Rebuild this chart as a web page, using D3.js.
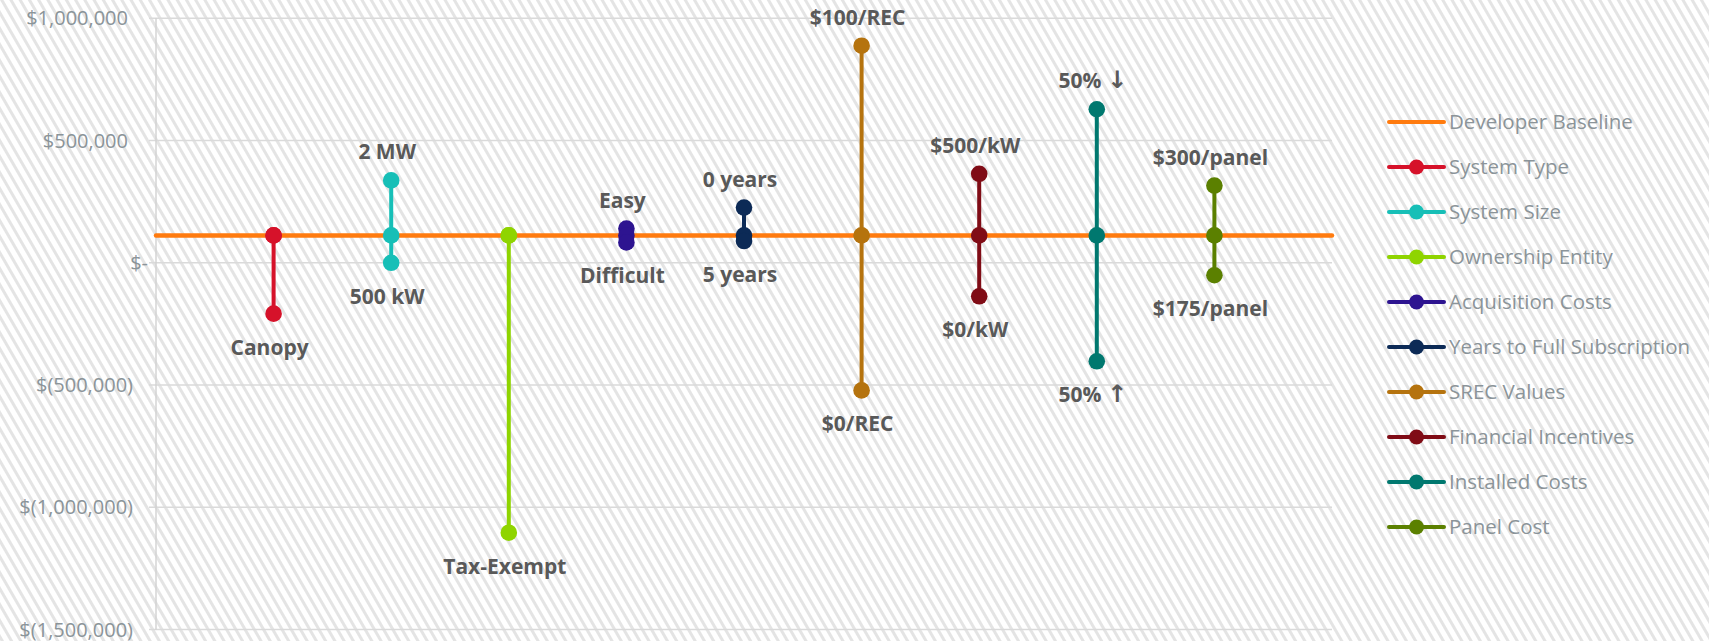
<!DOCTYPE html>
<html lang="en">
<script src="https://d3js.org/d3.v7.min.js"></script>
<style>
  body { margin: 0; background: #fff; }
  svg { display: block; }
  .tick-label { font-family: "Open Sans", sans-serif; font-size: 20px; fill: #8b9499; }
  .legend-label { font-family: "Open Sans", sans-serif; font-size: 20.5px; fill: #8b9499; }
  .point-label { font-family: "Open Sans", sans-serif; font-size: 21px; font-weight: 700; fill: #595959; }
  .arrow { font-family: "DejaVu Sans", sans-serif; font-size: 24px; font-weight: 700; }
</style>
<body>
<svg id="chart" width="1709" height="641"></svg>
<script>
  // values
  var seriesNames = ["System Type", "System Size", "Ownership Entity", "Acquisition Costs",
    "Years to Full Subscription", "SREC Values", "Financial Incentives", "Installed Costs", "Panel Cost"];
  var seriesColors = ["#d6122a", "#17bfb7", "#8fd400", "#2d1490", "#0c2a56",
    "#b5730e", "#800c16", "#00786f", "#5b8000"];
  var seriesPos = [1, 2, 3, 4, 5, 6, 7, 8, 9];
  var baselineName = "Developer Baseline";
  var baselineColor = "#ff7b0f";
  var baselineValue = 112000;
  var highValues = [112000, 337000, 112000, 140000, 226000, 888000, 364000, 628000, 316000];
  var lowValues = [-208000, 0, -1104000, 83000, 89000, -522000, -137000, -403000, -51000];
  var highLabels = ["", "2 MW", "", "Easy", "0 years", "$100/REC", "$500/kW", "50% \u2193", "$300/panel"];
  var lowLabels = ["Canopy", "500 kW", "Tax-Exempt", "Difficult", "5 years", "$0/REC", "$0/kW", "50% \u2191", "$175/panel"];
  var yTicks = [1000000, 500000, 0, -500000, -1000000, -1500000];

  var svg = d3.select("#chart");

  // hatched background
  var pat = svg.append("defs").append("pattern")
    .attr("id", "hatch")
    .attr("patternUnits", "userSpaceOnUse")
    .attr("width", 8).attr("height", 8)
    .attr("patternTransform", "rotate(-30)");
  pat.append("rect").attr("width", 8).attr("height", 8).attr("fill", "#ffffff");
  pat.append("rect").attr("width", 3).attr("height", 8).attr("fill", "#e4e4e4");
  svg.append("rect").attr("width", 1709).attr("height", 641).attr("fill", "url(#hatch)");

  var x = d3.scaleLinear().domain([0, 10]).range([156, 1332]);
  var y = d3.scaleLinear().domain([-1500000, 1000000]).range([629.5, 18.3]);

  function money(v) {
    if (v === 0) return "$-";
    var s = d3.format(",")(Math.abs(v));
    return v < 0 ? "$(" + s + ")" : "$" + s;
  }

  // gridlines + ticks
  svg.append("g").selectAll("line")
    .data(yTicks).enter().append("line")
    .attr("x1", 149).attr("x2", x(10))
    .attr("y1", function(d) { return y(d); })
    .attr("y2", function(d) { return y(d); })
    .style("stroke", "#dadada").style("stroke-width", 1.4);

  svg.append("line")
    .attr("x1", x(0)).attr("x2", x(0))
    .attr("y1", y(1000000)).attr("y2", y(-1500000))
    .style("stroke", "#d2d2d2").style("stroke-width", 1.4);

  svg.append("g").selectAll("text")
    .data(yTicks).enter().append("text")
    .attr("class", "tick-label")
    .attr("x", function(d) { return d === 0 ? 148 : (d < 0 ? 133 : 128); })
    .attr("y", function(d) { return y(d); })
    .attr("dy", "0.35em")
    .attr("text-anchor", "end")
    .text(money);

  // developer baseline
  svg.append("line")
    .attr("x1", x(0)).attr("x2", x(10))
    .attr("y1", y(baselineValue)).attr("y2", y(baselineValue))
    .style("stroke", baselineColor).style("stroke-width", 4.5)
    .style("stroke-linecap", "round");

  // sensitivity series
  var series = seriesNames.map(function(name, i) {
    return { name: name, color: seriesColors[i], pos: seriesPos[i],
      hi: highValues[i], lo: lowValues[i], hiLabel: highLabels[i], loLabel: lowLabels[i] };
  });

  var g = svg.append("g").selectAll("g")
    .data(series).enter().append("g");

  g.append("line")
    .attr("x1", function(d) { return x(d.pos); })
    .attr("x2", function(d) { return x(d.pos); })
    .attr("y1", function(d) { return y(d.hi); })
    .attr("y2", function(d) { return y(d.lo); })
    .style("stroke", function(d) { return d.color; })
    .style("stroke-width", 4);

  g.selectAll("circle")
    .data(function(d) { return [d.hi, baselineValue, d.lo].map(function(v) { return { v: v, d: d }; }); })
    .enter().append("circle")
    .attr("cx", function(p) { return x(p.d.pos); })
    .attr("cy", function(p) { return y(p.v); })
    .attr("r", 8.3)
    .style("fill", function(p) { return p.d.color; });

  // labels; arrows get a font that has a proper glyph
  function writeLabel(sel, str) {
    var m = str.match(/^(.*?)([\u2191\u2193])$/);
    if (!m) { sel.text(str); return; }
    sel.append("tspan").text(m[1]);
    sel.append("tspan").attr("class", "arrow").text(m[2]);
  }

  g.append("text")
    .attr("class", "point-label")
    .attr("x", function(d) { return x(d.pos) - 4; })
    .attr("y", function(d) { return y(d.hi) - 21; })
    .attr("text-anchor", "middle")
    .each(function(d) { writeLabel(d3.select(this), d.hiLabel); });

  g.append("text")
    .attr("class", "point-label")
    .attr("x", function(d) { return x(d.pos) - 4; })
    .attr("y", function(d) { return y(d.lo) + 41; })
    .attr("text-anchor", "middle")
    .each(function(d) { writeLabel(d3.select(this), d.loLabel); });

  // legend
  var legendItems = [{ name: baselineName, color: baselineColor, marker: false }]
    .concat(series.map(function(s) { return { name: s.name, color: s.color, marker: true }; }));

  var leg = svg.append("g").attr("transform", "translate(1389,122)")
    .selectAll("g").data(legendItems).enter().append("g")
    .attr("transform", function(d, i) { return "translate(0," + (i * 45) + ")"; });

  leg.append("line")
    .attr("x1", 0).attr("x2", 55)
    .style("stroke", function(d) { return d.color; })
    .style("stroke-width", 4)
    .style("stroke-linecap", "round");

  leg.filter(function(d) { return d.marker; }).append("circle")
    .attr("cx", 27.5).attr("r", 7.5)
    .style("fill", function(d) { return d.color; });

  leg.append("text")
    .attr("class", "legend-label")
    .attr("x", 60)
    .attr("dy", "0.35em")
    .text(function(d) { return d.name; });
</script>
</body>
</html>
